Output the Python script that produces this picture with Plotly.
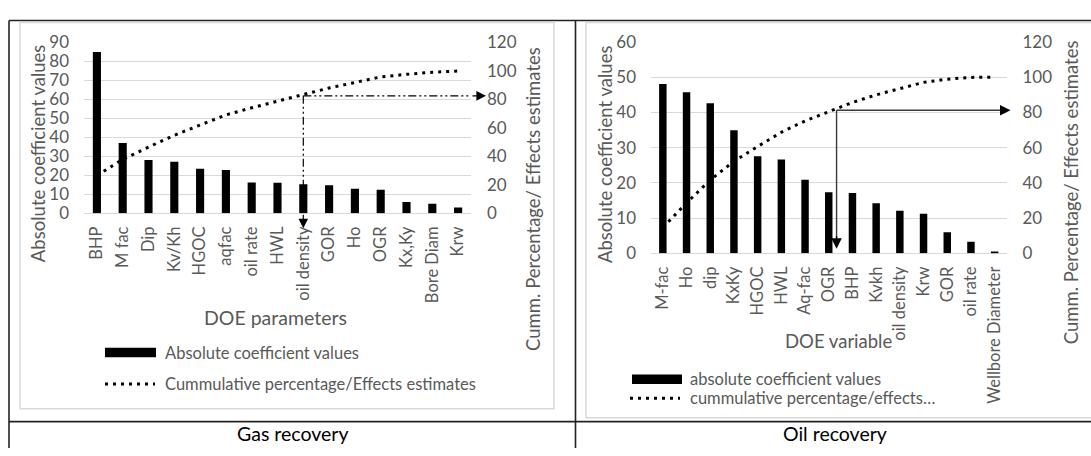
import plotly.graph_objects as go

W, H = 1091, 456

# ---- Gas recovery: DOE parameter ranking ----
gas_params = ["BHP", "M fac", "Dip", "Kv/Kh", "HGOC", "aqfac", "oil rate", "HWL",
              "oil density", "GOR", "Ho", "OGR", "Kx,Ky", "Bore Diam", "Krw"]
gas_coeff = [85, 37, 28, 27.2, 23.5, 22.8, 16.2, 16.1, 15.3, 14.8, 12.9, 12.4, 5.9, 5.0, 3.0]
gas_cum = [26.5, 37.8, 46.5, 54.8, 62.0, 69.1, 74.1, 79.0, 83.4, 88.0, 92.0, 95.8, 97.6, 99.1, 100.0]

# ---- Oil recovery: DOE variable ranking ----
oil_vars = ["M-fac", "Ho", "dip", "KxKy", "HGOC", "HWL", "Aq-fac", "OGR", "BHP", "Kvkh",
            "oil density", "Krw", "GOR", "oil rate", "Wellbore Diameter"]
oil_coeff = [48, 45.7, 42.6, 34.9, 27.5, 26.6, 20.9, 17.3, 17.1, 14.2, 12.1, 11.2, 6.0, 3.3, 0.5]
oil_cum = [14.6, 28.6, 41.6, 52.2, 60.6, 68.7, 75.1, 80.4, 85.6, 89.9, 93.6, 97.0, 98.8, 99.8, 100.0]

# 80 % cut-off markers (category position, cumulative %)
gas_cut_pos, gas_cut_pct = 8, 82.5
oil_cut_pos, oil_cut_pct = 7.33, 81.2

FONT = "Lato"
GREY = "#595959"
GRID = "#d9d9d9"
YTICK = dict(family=FONT, size=17, color=GREY)
XTICK = dict(family=FONT, size=16.5, color=GREY)


def px(x):
    return x / W


def py(y):
    return 1 - y / H


fig = go.Figure()

fig.add_trace(go.Bar(x=gas_params, y=gas_coeff, marker=dict(color="black", line=dict(width=0)),
                     xaxis="x", yaxis="y", showlegend=False))
fig.add_trace(go.Scatter(x=gas_params, y=gas_cum, mode="lines", xaxis="x", yaxis="y2",
                         line=dict(color="black", width=3, dash="3px,5px"), showlegend=False))
fig.add_trace(go.Bar(x=oil_vars, y=oil_coeff, marker=dict(color="black", line=dict(width=0)),
                     xaxis="x2", yaxis="y3", showlegend=False))
fig.add_trace(go.Scatter(x=oil_vars, y=oil_cum, mode="lines", xaxis="x2", yaxis="y4",
                         line=dict(color="black", width=3, dash="3px,5px"), showlegend=False))

common_x = dict(type="category", tickangle=-90, showgrid=False, showline=False, zeroline=False,
                ticks="", tickfont=XTICK, ticklabelstandoff=9)
common_yl = dict(showgrid=True, gridcolor=GRID, gridwidth=1.3, zeroline=True, zerolinecolor=GRID,
                 zerolinewidth=1.3, showline=False, ticks="", tickfont=YTICK, ticklabelstandoff=14)
common_yr = dict(showgrid=False, zeroline=False, showline=False, ticks="", tickfont=YTICK,
                 ticklabelstandoff=15, side="right")

fig.update_layout(
    width=W, height=H,
    margin=dict(l=0, r=0, t=0, b=0),
    paper_bgcolor="white", plot_bgcolor="rgba(0,0,0,0)",
    bargap=0.685,
    font=dict(family=FONT, color=GREY),
    xaxis=dict(domain=[px(84), px(471)], anchor="y", range=[-0.5, 14.5], **common_x),
    yaxis=dict(domain=[py(212), py(33)], anchor="x", range=[0, 90], dtick=10, **common_yl),
    yaxis2=dict(overlaying="y", anchor="x", range=[0, 120], dtick=20, **common_yr),
    xaxis2=dict(domain=[px(651), px(1006.5)], anchor="y3", range=[-0.5, 14.5], **common_x),
    yaxis3=dict(domain=[py(254), py(32.3)], anchor="x2", range=[0, 60], dtick=10, **common_yl),
    yaxis4=dict(overlaying="y3", anchor="x2", range=[0, 120], dtick=20, **common_yr),
)

shapes = []
annotations = []

# table frame and chart-area borders
for x0, y0, x1, y1, col, w in [
    (9, 10, W + 2, 10, "#222222", 1.6),
    (9, 10, 9, H + 2, "#222222", 1.6),
    (575.5, 10, 575.5, H + 2, "#222222", 1.6),
    (9, 430.5, W + 2, 430.5, "#222222", 1.6),
]:
    shapes.append(dict(type="line", xref="paper", yref="paper", x0=px(x0), y0=py(y0),
                       x1=px(x1), y1=py(y1), line=dict(color=col, width=w)))
shapes.append(dict(type="rect", xref="paper", yref="paper", x0=px(20), y0=py(417), x1=px(554),
                   y1=py(12), line=dict(color=GRID, width=1.5)))
shapes.append(dict(type="rect", xref="paper", yref="paper", x0=px(586), y0=py(426.5), x1=px(W + 5),
                   y1=py(12), line=dict(color=GRID, width=1.5)))

# gas: dash-dot-dot cut-off lines with arrow heads
dd = "8px,3px,2px,3px,2px,3px"
shapes.append(dict(type="line", xref="x", yref="y2", x0=gas_cut_pos, x1=14.5,
                   y0=gas_cut_pct, y1=gas_cut_pct, line=dict(color="black", width=1.2, dash=dd)))
shapes.append(dict(type="line", xref="x", yref="y2", x0=gas_cut_pos, x1=gas_cut_pos,
                   y0=gas_cut_pct, y1=0, line=dict(color="black", width=1.2, dash=dd)))
annotations.append(dict(xref="x", yref="y2", x=14.5, y=gas_cut_pct, xshift=15, ax=-15, ay=0,
                        text="", showarrow=True, arrowhead=2, arrowsize=1.6, arrowwidth=1.2,
                        arrowcolor="black"))
annotations.append(dict(xref="x", yref="y2", x=gas_cut_pos, y=0, yshift=-15, ax=0, ay=-15,
                        text="", showarrow=True, arrowhead=2, arrowsize=1.6, arrowwidth=1.2,
                        arrowcolor="black"))

# oil: solid cut-off lines with arrow heads
OILC = "#3a3a3a"
shapes.append(dict(type="line", xref="x2", yref="y4", x0=oil_cut_pos, x1=14.5,
                   y0=oil_cut_pct, y1=oil_cut_pct, line=dict(color=OILC, width=1.4)))
shapes.append(dict(type="line", xref="x2", yref="y4", x0=oil_cut_pos, x1=oil_cut_pos,
                   y0=oil_cut_pct, y1=8, line=dict(color=OILC, width=1.4)))
annotations.append(dict(xref="x2", yref="y4", x=14.5, y=oil_cut_pct, xshift=4, ax=-12, ay=0,
                        text="", showarrow=True, arrowhead=2, arrowsize=1.5, arrowwidth=1.4,
                        arrowcolor="black"))
annotations.append(dict(xref="x2", yref="y4", x=oil_cut_pos, y=2.6, ax=0, ay=-14,
                        text="", showarrow=True, arrowhead=2, arrowsize=1.5, arrowwidth=1.4,
                        arrowcolor="black"))


def label(text, x, y, size, color=GREY, angle=0, xanchor="center"):
    annotations.append(dict(xref="paper", yref="paper", x=px(x), y=py(y), text=text,
                            showarrow=False, textangle=angle, xanchor=xanchor, yanchor="middle",
                            font=dict(family=FONT, size=size, color=color)))


# axis titles
label("Absolute coefficient values", 38, 149, 18.5, angle=-90)
label("Cumm. Percentage/ Effects estimates", 533, 197, 18.5, angle=-90)
label("DOE parameters", 275, 321, 19.5)
label("Absolute coefficient values", 605, 150, 18.5, angle=-90)
label("Cumm. Percentage/ Effects estimates", 1071, 190, 18.5, angle=-90)
label("DOE variable", 838, 346, 18.5)

# legends
shapes.append(dict(type="rect", xref="paper", yref="paper", x0=px(105), x1=px(156), y0=py(363),
                   y1=py(353), fillcolor="black", line=dict(width=0)))
shapes.append(dict(type="line", xref="paper", yref="paper", x0=px(105), x1=px(155), y0=py(391),
                   y1=py(391), line=dict(color="black", width=3, dash="3px,5px")))
label("Absolute coefficient values", 163, 358, 16.5, xanchor="left")
label("Cummulative percentage/Effects estimates", 163, 391, 16.5, xanchor="left")

shapes.append(dict(type="rect", xref="paper", yref="paper", x0=px(632), x1=px(682), y0=py(391),
                   y1=py(381), fillcolor="black", line=dict(width=0)))
shapes.append(dict(type="line", xref="paper", yref="paper", x0=px(630), x1=px(680), y0=py(406),
                   y1=py(406), line=dict(color="black", width=3, dash="3px,5px")))
label("absolute coefficient values", 688, 386, 16.5, xanchor="left")
label("cummulative percentage/effects…", 688, 406, 16.5, xanchor="left")

# panel captions
label("Gas recovery", 292, 443, 19.5, color="black")
label("Oil recovery", 835, 443, 19.5, color="black")

fig.update_layout(shapes=shapes, annotations=annotations)
fig.write_html("out.html")
